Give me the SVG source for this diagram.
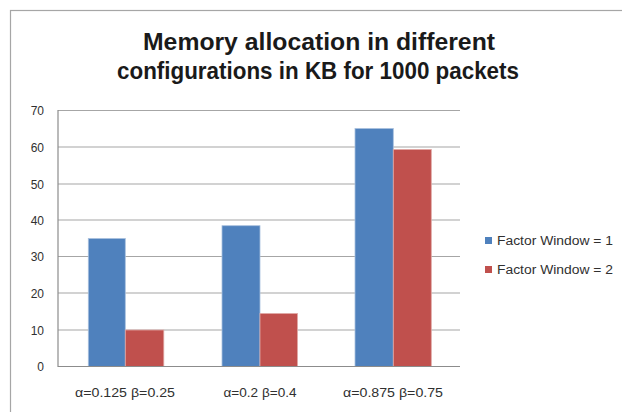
<svg xmlns="http://www.w3.org/2000/svg" width="622" height="412" viewBox="0 0 622 412">
<style>
.title{font-family:"Liberation Sans",Arial,sans-serif;font-weight:bold;font-size:24px;fill:#1a1a1a;text-anchor:middle}
.ax{font-family:"Liberation Sans",Arial,sans-serif;font-size:12px;fill:#303030;text-anchor:end}
.cat{font-family:"Liberation Sans",Arial,sans-serif;font-size:12.5px;fill:#303030;text-anchor:middle}
.leg{font-family:"Liberation Sans",Arial,sans-serif;font-size:12.5px;fill:#303030}
.grid{stroke:#a6a6a6;stroke-width:1.2}
.axis{stroke:#8c8c8c;stroke-width:1.2}
.s1{fill:#4F81BD;stroke:#a9c0de;stroke-width:0.8}
.s2{fill:#C0504D;stroke:#e0a8a6;stroke-width:0.8}
</style>
<rect x="0" y="0" width="622" height="412" fill="#ffffff"/>
<rect x="10.5" y="10.5" width="700" height="500" fill="#ffffff" stroke="#a6a6a6" stroke-width="1.2"/>
<g id="title">
<text class="title" x="319" y="50" textLength="352" lengthAdjust="spacingAndGlyphs">Memory allocation in different</text>
<text class="title" x="318" y="79" textLength="402" lengthAdjust="spacingAndGlyphs">configurations in KB for 1000 packets</text>
</g>
<g id="gridlines">
<line class="grid" x1="58" y1="110.5" x2="460" y2="110.5"/>
<line class="grid" x1="58" y1="147" x2="460" y2="147"/>
<line class="grid" x1="58" y1="184" x2="460" y2="184"/>
<line class="grid" x1="58" y1="220" x2="460" y2="220"/>
<line class="grid" x1="58" y1="256.5" x2="460" y2="256.5"/>
<line class="grid" x1="58" y1="293" x2="460" y2="293"/>
<line class="grid" x1="58" y1="330" x2="460" y2="330"/>
</g>
<g id="yaxis-labels">
<text class="ax" x="44" y="115">70</text>
<text class="ax" x="44" y="151.5">60</text>
<text class="ax" x="44" y="188.5">50</text>
<text class="ax" x="44" y="224.5">40</text>
<text class="ax" x="44" y="261">30</text>
<text class="ax" x="44" y="297.5">20</text>
<text class="ax" x="44" y="334.5">10</text>
<text class="ax" x="44" y="371">0</text>
</g>
<g id="bars">
<rect id="g1-s1" class="s1" x="88.3" y="238.5" width="37" height="128"/>
<rect id="g1-s2" class="s2" x="125.3" y="330" width="38.5" height="36.5"/>
<rect id="g2-s1" class="s1" x="222" y="225.7" width="38" height="140.8"/>
<rect id="g2-s2" class="s2" x="260" y="313.5" width="37.5" height="53"/>
<rect id="g3-s1" class="s1" x="355" y="128.5" width="38.3" height="238"/>
<rect id="g3-s2" class="s2" x="393.3" y="149.5" width="38" height="217"/>
</g>
<g id="axes">
<line class="axis" x1="58" y1="110" x2="58" y2="367"/>
<line class="axis" x1="58" y1="366.5" x2="460" y2="366.5"/>
</g>
<g id="category-labels">
<text class="cat" x="125" y="397" textLength="100" lengthAdjust="spacingAndGlyphs">α=0.125 β=0.25</text>
<text class="cat" x="260" y="397" textLength="73" lengthAdjust="spacingAndGlyphs">α=0.2 β=0.4</text>
<text class="cat" x="393" y="397" textLength="100" lengthAdjust="spacingAndGlyphs">α=0.875 β=0.75</text>
</g>
<g id="legend">
<rect x="485" y="237" width="7" height="7" fill="#4F81BD"/>
<text class="leg" x="497" y="245" textLength="116" lengthAdjust="spacingAndGlyphs">Factor Window = 1</text>
<rect x="485" y="266" width="7" height="7" fill="#C0504D"/>
<text class="leg" x="497" y="274" textLength="116" lengthAdjust="spacingAndGlyphs">Factor Window = 2</text>
</g>
</svg>
